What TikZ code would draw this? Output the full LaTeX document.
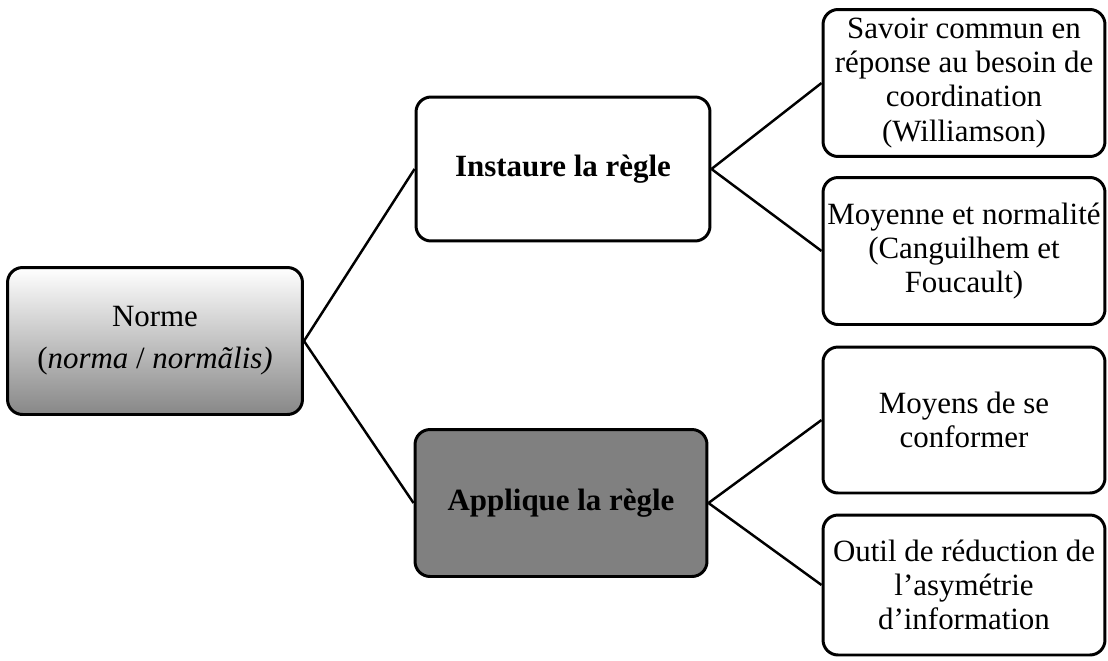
\documentclass[tikz,border=0pt]{standalone}
\usepackage{fontspec}
\setmainfont{Liberation Serif}
\usepackage{tikz}
\usetikzlibrary{calc}
\usetikzlibrary{positioning}
\tikzstyle{boite} = [rectangle, rounded corners=0.3cm, draw=black, line width=1.7pt, align=center, font=\fontsize{17.6}{19.4}\selectfont, inner sep=2pt]
\tikzstyle{lien} = [-, draw=black, line width=1.4pt]

\begin{document}
\begin{tikzpicture}[x=0.02cm, y=-0.02cm]
\useasboundingbox (0, 0) rectangle (1108, 660);
\node [boite, minimum width=5.9cm, minimum height=2.94cm, top color=white, bottom color=black!47, font=\fontsize{17.6}{24}\selectfont] (N) at (155, 341) {Norme\\(\textit{norma} / \textit{normãlis)}};
\node [boite, minimum width=5.88cm, minimum height=2.88cm, font=\fontsize{17.6}{19.4}\selectfont\bfseries] (I) at (563, 169) {Instaure la règle};
\node [boite, minimum width=5.84cm, minimum height=2.94cm, fill=black!50, font=\fontsize{17.6}{19.4}\selectfont\bfseries] (A) at (561, 503) {Applique la règle};
\node [boite, minimum width=5.64cm, minimum height=2.94cm] (S) at (964, 83) {Savoir commun en\\réponse au besoin de\\coordination\\(Williamson)};
\node [boite, minimum width=5.64cm, minimum height=2.94cm] (M) at (964, 251) {Moyenne et normalité\\(Canguilhem et\\Foucault)};
\node [boite, minimum width=5.64cm, minimum height=2.92cm] (C) at (964, 420) {Moyens de se\\conformer};
\node [boite, minimum width=5.64cm, minimum height=2.8cm] (O) at (964, 585) {Outil de réduction de\\l'asymétrie\\d'information};
\draw [lien] (N.east) to (I.west);
\draw [lien] (N.east) to (A.west);
\draw [lien] (I.east) to (S.west);
\draw [lien] (I.east) to (M.west);
\draw [lien] (A.east) to (C.west);
\draw [lien] (A.east) to (O.west);
\end{tikzpicture}
\end{document}
